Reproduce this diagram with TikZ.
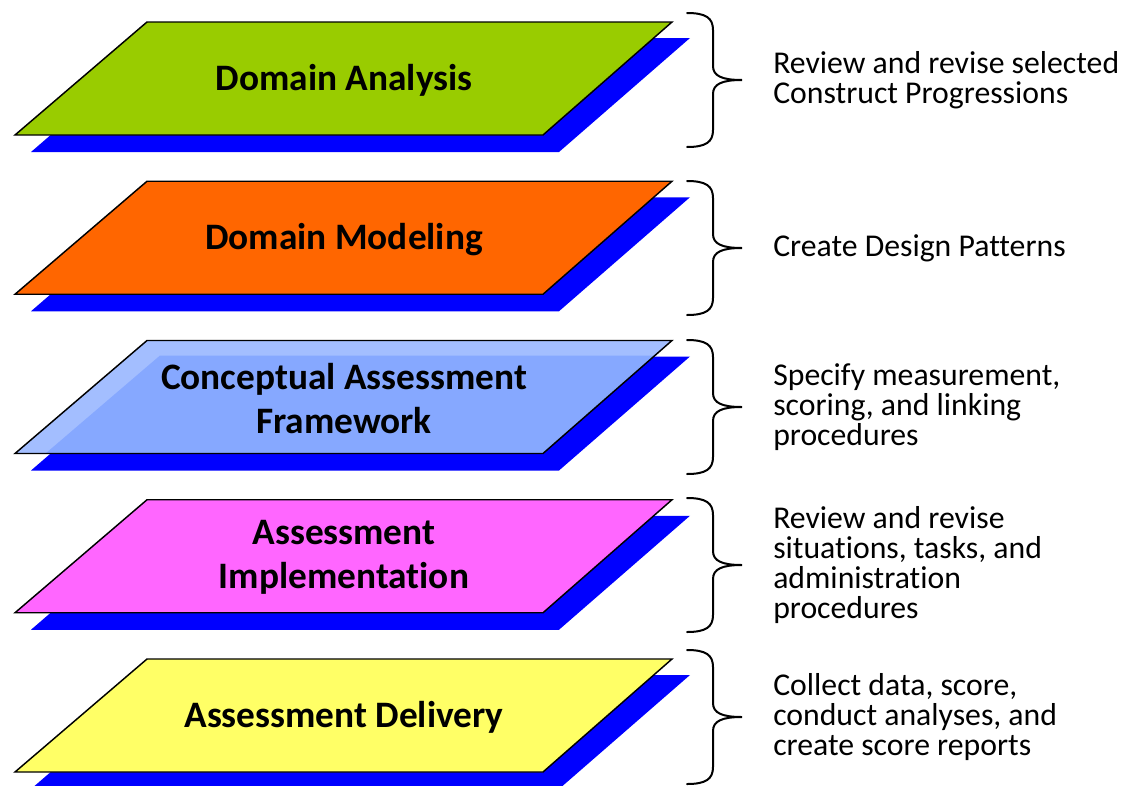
\documentclass[tikz,border=0pt]{standalone}
\usepackage{fontspec}
\setmainfont{Carlito}[RawFeature=-liga]
\usepackage{tikz}
\usetikzlibrary{positioning,calc}

\definecolor{layergreen}{HTML}{99CC00}
\definecolor{layerorange}{HTML}{FF6600}
\definecolor{layerblue}{HTML}{86A8FF}
\definecolor{layerbluelight}{HTML}{A3BEFF}
\definecolor{layerpink}{HTML}{FF66FF}
\definecolor{layeryellow}{HTML}{FFFF66}
\definecolor{shadowblue}{HTML}{0000FF}

\tikzset{
  layer/.style={draw=black, line width=1.1pt, line join=miter},
  layershadow/.style={fill=shadowblue},
  layername/.style={font=\fontsize{28}{33}\selectfont\bfseries, align=center, inner sep=0pt},
  desctext/.style={font=\fontsize{23.8}{22.7}\selectfont, align=left, inner sep=0pt},
  bracestroke/.style={line width=1.5pt, line cap=round}
}

\begin{document}
\begin{tikzpicture}[x=0.75pt, y=-0.75pt]
\useasboundingbox (0,0) rectangle (1123,785);

\foreach \name/\col/\tip/\desc [count=\i] in {
    {Domain Analysis}/layergreen/80/{Review and revise selected\\Construct Progressions},
    {Domain Modeling}/layerorange/248/{Create Design Patterns},
    {Conceptual Assessment\\Framework}/layerbluelight/407/{Specify measurement,\\scoring, and linking\\procedures},
    {Assessment\\Implementation}/layerpink/565/{Review and revise\\situations, tasks, and\\administration\\procedures},
    {Assessment Delivery}/layeryellow/717/{Collect data, score,\\conduct analyses, and\\create score reports}} {

  % top edge of the layer, one step per row
  \pgfmathsetmacro\top{22+(\i-1)*159.25}
  \pgfmathsetmacro\bot{\top+113}

  % blue shadow under each layer
  \fill[layershadow] (163,\top+16) -- (690,\top+16) -- (559,\bot+17) -- (31,\bot+17) -- cycle;

  \fill[\col] (147,\top) -- (672,\top) -- (543,\bot) -- (15,\bot) -- cycle;
  \ifnum\i = 3
    \begin{scope}
      \clip (147,\top) -- (672,\top) -- (543,\bot) -- (15,\bot) -- cycle;
      \fill[layerblue] (160,\top+15) -- (685,\top+15) -- (556,\bot+15) -- (28,\bot+15) -- cycle;
    \end{scope}
  \fi
  \draw[layer] (147,\top) -- (672,\top) -- (543,\bot) -- (15,\bot) -- cycle;

  \node[layername] (layer\i) at (344,\top+58) {\name};

  % curly brace and its text
  \draw[bracestroke] (687,\tip-67) .. controls (706,\tip-67) and (713,\tip-62) .. (713,\tip-50)
    -- (713,\tip-14) .. controls (713,\tip-4) and (722,\tip) .. (742,\tip)
    .. controls (722,\tip) and (713,\tip+4) .. (713,\tip+14)
    -- (713,\tip+50) .. controls (713,\tip+62) and (706,\tip+67) .. (687,\tip+67);
  \coordinate (tip\i) at (742,\tip);
  \node[desctext, right=23.25pt of tip\i] (desc\i) {\desc};
}
\end{tikzpicture}
\end{document}
